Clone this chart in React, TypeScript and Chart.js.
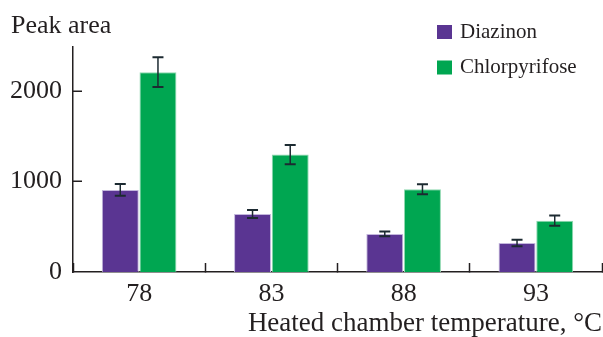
import { useEffect, useRef } from "react";
import { Chart, registerables } from "chart.js";

Chart.register(...registerables);

const categories = ["78", "83", "88", "93"];
const seriesNames = ["Diazinon", "Chlorpyrifose"];
const diazinon = [905, 640, 420, 320];
const diazinonErr = [65, 45, 26, 37];
const chlorpyrifose = [2205, 1295, 912, 566];
const chlorpyrifoseErr = [165, 105, 55, 57];
const yTicks = [0, 1000, 2000];
const yMax = 2480;
const yTitle = "Peak area";
const xTitle = "Heated chamber temperature, \u00B0C";

const FONT = "'Liberation Serif', 'Times New Roman', serif";
const INK = "#231f20";
const PURPLE = "#5a3592";
const GREEN = "#00a651";

const errorBarsPlugin = {
  id: "errorBars",
  afterDatasetsDraw(chart: any) {
    const ctx = chart.ctx;
    const ys = chart.scales.y;
    chart.data.datasets.forEach((ds: any, d: number) => {
      const meta = chart.getDatasetMeta(d);
      meta.data.forEach((el: any, i: number) => {
        const v = ds.data[i];
        const e = ds.errors[i];
        const x = el.x;
        const t = ys.getPixelForValue(v + e);
        const b = ys.getPixelForValue(v - e);
        ctx.save();
        ctx.strokeStyle = "#1c2a31";
        ctx.lineWidth = 1.5;
        ctx.beginPath();
        ctx.moveTo(x, t);
        ctx.lineTo(x, b);
        ctx.stroke();
        ctx.lineWidth = 2;
        ctx.beginPath();
        ctx.moveTo(x - 5.5, t);
        ctx.lineTo(x + 5.5, t);
        ctx.moveTo(x - 5.5, b);
        ctx.lineTo(x + 5.5, b);
        ctx.stroke();
        ctx.restore();
      });
    });
  },
};

// inward tick marks on the y axis, placed through the y scale
const yTickMarksPlugin = {
  id: "yTickMarks",
  afterDraw(chart: any) {
    const ctx = chart.ctx;
    const ys = chart.scales.y;
    const x0 = chart.chartArea.left;
    ctx.save();
    ctx.strokeStyle = INK;
    ctx.lineWidth = 1.5;
    yTicks.forEach((v) => {
      if (v === 0) return;
      const y = Math.round(ys.getPixelForValue(v)) + 0.25;
      ctx.beginPath();
      ctx.moveTo(x0, y);
      ctx.lineTo(x0 + 9, y);
      ctx.stroke();
    });
    ctx.restore();
  },
};

const legendPlugin = {
  id: "customLegend",
  afterDraw(chart: any) {
    const ctx = chart.ctx;
    ctx.save();
    chart.data.datasets.forEach((ds: any, i: number) => {
      const y0 = 25 + i * 35.5;
      ctx.fillStyle = ds.backgroundColor;
      ctx.fillRect(437, y0, 15, 14);
      ctx.fillStyle = INK;
      ctx.font = `21px ${FONT}`;
      ctx.textBaseline = "middle";
      ctx.textAlign = "left";
      ctx.fillText(ds.label, 460, y0 + 7);
    });
    ctx.restore();
  },
};

export default function App() {
  const ref = useRef<HTMLCanvasElement | null>(null);

  useEffect(() => {
    if (!ref.current) return;
    const chart = new Chart(ref.current, {
      type: "bar",
      data: {
        labels: categories,
        datasets: [
          {
            label: seriesNames[0],
            data: diazinon,
            errors: diazinonErr,
            backgroundColor: PURPLE,
            borderColor: "#c3b6dc",
            borderWidth: 1,
          } as any,
          {
            label: seriesNames[1],
            data: chlorpyrifose,
            errors: chlorpyrifoseErr,
            backgroundColor: GREEN,
            borderColor: "#8fd8b0",
            borderWidth: 1,
          } as any,
        ],
      },
      options: {
        responsive: false,
        animation: false,
        datasets: { bar: { categoryPercentage: 0.57, barPercentage: 0.98 } },
        layout: { padding: { left: 11, right: 1, top: 0, bottom: 0 } },
        plugins: {
          legend: { display: false },
          tooltip: { enabled: false },
          title: {
            display: true,
            text: yTitle,
            align: "start",
            color: INK,
            font: { family: FONT, size: 26, weight: "normal", lineHeight: 1.2 },
            padding: { top: 11, bottom: 5 },
          },
        },
        scales: {
          x: {
            grid: {
              display: true,
              drawOnChartArea: false,
              drawTicks: true,
              tickLength: -9,
              tickColor: INK,
              tickWidth: 1.5,
              offset: true,
            },
            border: { display: true, color: INK, width: 1.5 },
            ticks: {
              color: INK,
              padding: 16,
              font: { family: FONT, size: 26 },
            },
            title: {
              display: true,
              text: xTitle,
              align: "end",
              color: INK,
              font: { family: FONT, size: 27, lineHeight: 1 },
              padding: { top: 0, bottom: 0 },
            },
            afterFit: (s: any) => {
              s.height = 65;
            },
          },
          y: {
            min: 0,
            max: yMax,
            grid: {
              display: false,
              drawOnChartArea: false,
              drawTicks: false,
            },
            border: { display: true, color: INK, width: 1.5 },
            ticks: {
              color: INK,
              padding: 11,
              includeBounds: false,
              font: { family: FONT, size: 26 },
              callback: (v: any) => String(v),
            },
            afterBuildTicks: (s: any) => {
              s.ticks = yTicks.map((v) => ({ value: v }));
            },
            afterFit: (s: any) => {
              s.width = 62;
            },
          },
        },
      } as any,
      plugins: [errorBarsPlugin, yTickMarksPlugin, legendPlugin],
    });
    return () => chart.destroy();
  }, []);

  return (
    <div style={{ position: "absolute", left: 0, top: 0, width: 603, height: 337, background: "#fff" }}>
      <canvas ref={ref} width={603} height={337} style={{ display: "block" }} />
    </div>
  );
}
